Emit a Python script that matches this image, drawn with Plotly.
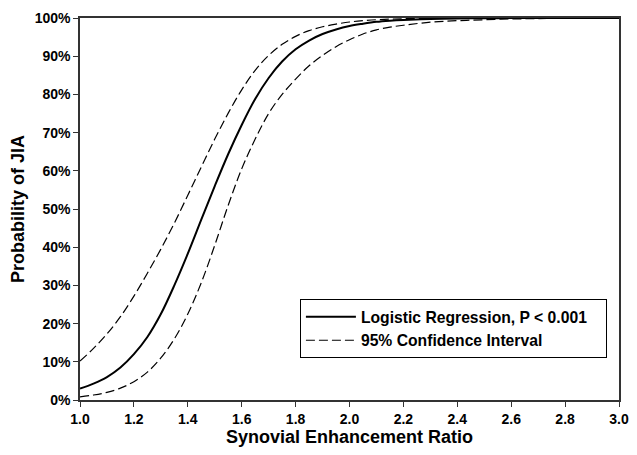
import plotly.graph_objects as go

ratio = [1.00, 1.05, 1.10, 1.15, 1.20, 1.25, 1.30, 1.35, 1.40, 1.45, 1.50, 1.55,
         1.60, 1.65, 1.70, 1.75, 1.80, 1.85, 1.90, 1.95, 2.00, 2.05, 2.10, 2.15,
         2.20, 2.30, 2.40, 2.50, 2.60, 2.70, 2.80, 2.90, 3.00]

prob = [3.0, 4.3, 6.0, 8.5, 12.0, 16.5, 22.5, 30.0, 38.3, 47.2, 56.0, 64.4,
        72.0, 78.8, 84.3, 88.6, 91.8, 94.1, 95.8, 97.0, 97.9, 98.5, 99.0, 99.3,
        99.5, 99.75, 99.88, 99.94, 99.97, 99.99, 100, 100, 100]

upper = [10.2, 13.5, 17.3, 21.8, 27.2, 33.2, 39.5, 46.3, 53.6, 61.0, 68.3, 75.1,
         81.2, 86.3, 90.2, 93.1, 95.2, 96.7, 97.7, 98.4, 98.95, 99.3, 99.55, 99.7,
         99.8, 99.92, 99.97, 99.99, 100, 100, 100, 100, 100]

lower = [0.8, 1.3, 2.0, 3.1, 4.8, 7.3, 11.0, 16.0, 22.5, 30.7, 40.5, 51.0,
         60.5, 68.3, 75.0, 80.0, 84.0, 87.5, 90.2, 92.5, 94.3, 95.8, 96.9, 97.6,
         98.1, 98.9, 99.3, 99.55, 99.75, 99.85, 99.92, 99.96, 99.98]

x_ticks = [1.0, 1.2, 1.4, 1.6, 1.8, 2.0, 2.2, 2.4, 2.6, 2.8, 3.0]
y_ticks = [0, 10, 20, 30, 40, 50, 60, 70, 80, 90, 100]

FONT = "Arial, Liberation Sans, sans-serif"
NBSP = "\u00a0"

fig = go.Figure()
fig.add_trace(go.Scatter(x=ratio, y=prob, mode="lines",
                         name="Logistic Regression, P < 0.001" + NBSP * 3,
                         line=dict(color="black", width=2, shape="spline")))
fig.add_trace(go.Scatter(x=ratio, y=upper, mode="lines", name="95% Confidence Interval",
                         line=dict(color="black", width=1.2, dash="9px,4px", shape="spline")))
fig.add_trace(go.Scatter(x=ratio, y=lower, mode="lines", name="95% Confidence Interval",
                         showlegend=False,
                         line=dict(color="black", width=1.2, dash="9px,4px", shape="spline")))

fig.update_layout(
    width=622, height=439,
    margin=dict(l=72, r=11, t=10, b=47),
    paper_bgcolor="white", plot_bgcolor="white",
    font=dict(family=FONT, color="black", size=14),
    showlegend=True,
    legend=dict(x=0.408, y=0.264, xanchor="left", yanchor="top",
                bordercolor="black", borderwidth=1, bgcolor="white",
                font=dict(family=FONT, size=15.7, weight="bold"),
                tracegroupgap=0, itemwidth=50),
)
fig.update_xaxes(range=[1.0, 3.0], tickvals=x_ticks, ticktext=[f"{v:.1f}" for v in x_ticks],
                 automargin=False,
                 showgrid=False, zeroline=False, showline=True, linecolor="#333", linewidth=1.5,
                 mirror=True, ticks="outside", ticklen=5, tickcolor="#333",
                 tickfont=dict(family=FONT, size=14, weight="bold"),
                 title=dict(text="Synovial Enhancement Ratio", standoff=6,
                            font=dict(family=FONT, size=18, weight="bold")))
fig.update_yaxes(range=[0, 100], tickvals=y_ticks, ticktext=[f"{v}%" for v in y_ticks],
                 automargin=False,
                 showgrid=False, zeroline=False, showline=True, linecolor="#333", linewidth=1.5,
                 mirror=True, ticks="outside", ticklen=5, tickcolor="#333",
                 tickfont=dict(family=FONT, size=14, weight="bold"),
                 title=dict(text="Probability of JIA", standoff=5,
                            font=dict(family=FONT, size=18, weight="bold")))

fig.write_html("out.html")
